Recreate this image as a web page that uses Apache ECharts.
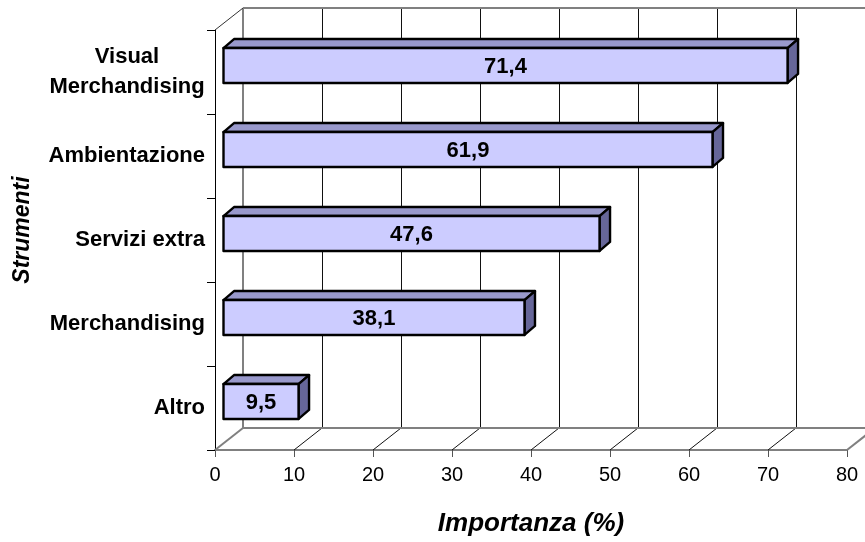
<!DOCTYPE html>
<html>
<head>
<meta charset="utf-8">
<script src="https://cdn.jsdelivr.net/npm/echarts@6/dist/echarts.min.js"></script>
<style>
  html, body { margin: 0; padding: 0; background: #fff; }
  #chart { width: 865px; height: 542px; }
</style>
</head>
<body>
<div id="chart"></div>
<script>
// Categories, top to bottom
const categories = ['Visual\nMerchandising', 'Ambientazione', 'Servizi extra', 'Merchandising', 'Altro'];
// Importance (%) for each category
const values = [71.4, 61.9, 47.6, 38.1, 9.5];
// Value-axis ticks
const xTicks = [0, 10, 20, 30, 40, 50, 60, 70, 80];

const FONT = '"Liberation Sans", Arial, sans-serif';

// Perspective offsets (pixels) for the pseudo-3D box
const WALL_DEPTH = [28, -22];   // front plane -> back wall
const BAR_FRONT = [8.5, -6.5];  // front plane -> front face of the bars
const BAR_DEPTH = [10.5, -9];   // thickness of each bar

const chart = echarts.init(document.getElementById('chart'), null, { renderer: 'canvas' });

const crisp = (v) => Math.round(v) + 0.5;

function wallRenderer(params, api) {
  const cs = params.coordSys;
  const top = cs.y, bottom = cs.y + cs.height, left = cs.x;
  const dx = WALL_DEPTH[0], dy = WALL_DEPTH[1];
  const children = [];
  const grey = { stroke: '#808080', lineWidth: 2 };
  const thin = { stroke: '#111', lineWidth: 1 };
  const line = (x1, y1, x2, y2, style) => children.push({
    type: 'line', shape: { x1, y1, x2, y2 }, style
  });
  xTicks.forEach((t, i) => {
    const x = api.coord([t, 0])[0];
    const edge = (i === 0 || i === xTicks.length - 1);
    // back wall vertical gridline
    const bx = edge ? x + dx : crisp(x + dx);
    line(bx, top + dy, bx, bottom + dy, edge ? grey : thin);
    // floor diagonal
    line(x, bottom, x + dx, bottom + dy, edge ? grey : thin);
  });
  const right = api.coord([xTicks[xTicks.length - 1], 0])[0];
  // back wall top edge and floor back edge
  line(left + dx, top + dy, right + dx, top + dy, grey);
  line(left + dx, bottom + dy, right + dx, bottom + dy, grey);
  // side wall top edge
  line(left, top, left + dx, top + dy, { stroke: '#333', lineWidth: 1 });
  return { type: 'group', children, silent: true };
}

function barRenderer(params, api) {
  const v = api.value(0);
  const c = api.value(1);
  const p0 = api.coord([0, c]);
  const p1 = api.coord([v, c]);
  const band = api.size([0, 1])[1];
  const h = band * 0.415;
  const x0 = p0[0] + BAR_FRONT[0];
  const x1 = p1[0] + BAR_FRONT[0];
  const yc = p0[1] + BAR_FRONT[1];
  const yt = yc - h / 2, yb = yc + h / 2;
  const dx = BAR_DEPTH[0], dy = BAR_DEPTH[1];
  const edge = { stroke: '#000', lineWidth: 2.4, lineJoin: 'round' };
  return {
    type: 'group',
    children: [
      { type: 'polygon', shape: { points: [[x0, yt], [x1, yt], [x1 + dx, yt + dy], [x0 + dx, yt + dy]] },
        style: Object.assign({ fill: '#9999CC' }, edge) },
      { type: 'polygon', shape: { points: [[x1, yt], [x1 + dx, yt + dy], [x1 + dx, yb + dy], [x1, yb]] },
        style: Object.assign({ fill: '#666699' }, edge) },
      { type: 'rect', shape: { x: x0, y: yt, width: x1 - x0, height: yb - yt },
        style: Object.assign({ fill: '#CCCCFF' }, edge) },
      { type: 'text', x: (x0 + x1) / 2, y: yc + 1,
        style: { text: String(v).replace('.', ','), align: 'center', verticalAlign: 'middle',
                 font: 'bold 22px ' + FONT, fill: '#000' } }
    ]
  };
}

chart.setOption({
  animation: false,
  backgroundColor: '#fff',
  grid: { left: 215, right: 18, top: 30, bottom: 92, containLabel: false },
  xAxis: {
    type: 'value', min: 0, max: 80, interval: 10,
    axisLine: { show: true, lineStyle: { color: '#808080', width: 2 } },
    axisTick: { show: true, length: 7, lineStyle: { color: '#555', width: 1 } },
    axisLabel: { fontFamily: FONT, fontSize: 20, color: '#000', margin: 15 },
    splitLine: { show: false },
    name: 'Importanza (%)', nameLocation: 'middle', nameGap: 61,
    nameTextStyle: { fontFamily: FONT, fontSize: 26, fontWeight: 'bold', fontStyle: 'italic', color: '#000' }
  },
  yAxis: {
    type: 'category', inverse: true, data: categories,
    axisLine: { show: true, lineStyle: { color: '#000', width: 1 } },
    axisTick: { show: true, length: 8, lineStyle: { color: '#000', width: 1 } },
    axisLabel: {
      fontFamily: FONT, fontSize: 22, fontWeight: 'bold', color: '#000', margin: 10,
      formatter: (val) => val.indexOf('\n') >= 0
        ? val.split('\n').map(s => '{c|' + s + '}').join('\n')
        : val,
      rich: { c: { width: 156, align: 'center', fontFamily: FONT, fontSize: 22, fontWeight: 'bold', color: '#000', lineHeight: 30 } }
    },
    name: 'Strumenti', nameLocation: 'middle', nameGap: 181, nameRotate: 90,
    nameTextStyle: { fontFamily: FONT, fontSize: 23, fontWeight: 'bold', fontStyle: 'italic', color: '#000',
                     padding: [0, 0, 0, 20] }
  },
  series: [
    { type: 'custom', name: 'wall', renderItem: wallRenderer, data: [[0, 0]], clip: false, z: 1, silent: true },
    { type: 'custom', name: 'Importanza', renderItem: barRenderer,
      data: values.map((v, i) => [v, i]), encode: { x: 0, y: 1 }, clip: false, z: 3 }
  ]
});
</script>
</body>
</html>
